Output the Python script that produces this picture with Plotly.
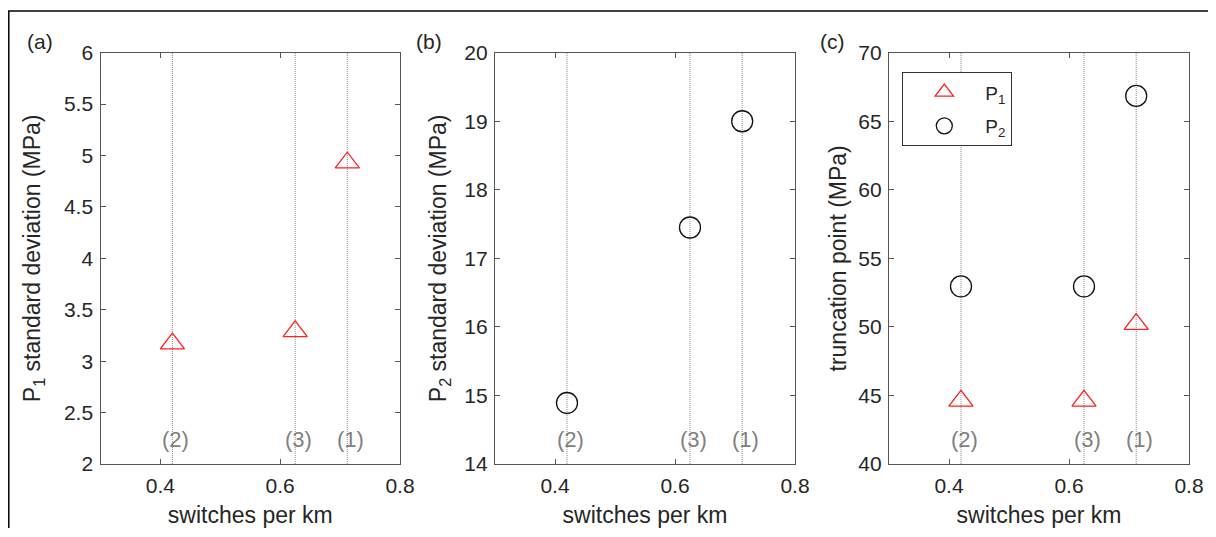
import plotly.graph_objects as go

# ---- data ----
switches = [0.42, 0.625, 0.712]          # switches per km
line_labels = ["(2)", "(3)", "(1)"]
p1_std = [3.17, 3.29, 4.93]              # MPa
p2_std = [14.89, 17.45, 19.0]            # MPa
p1_trunc = [44.6, 44.6, 50.2]            # MPa
p2_trunc = [52.95, 52.95, 66.85]         # MPa
panel_tags = ["(a)", "(b)", "(c)"]
y_titles = ["P<sub>1</sub> standard deviation (MPa)",
            "P<sub>2</sub> standard deviation (MPa)",
            "truncation point (MPa)"]
y_ranges = [[2, 6], [14, 20], [40, 70]]
y_dticks = [0.5, 1, 5]
x_range = [0.3, 0.8]
x_ticks = [0.4, 0.6, 0.8]

# figure sits in the page with the default 8px body margin
W, H = 1200, 520
OX, OY = 8, 8
def px_x(p): return (p - OX) / W
def px_y(p): return 1 - (p - OY) / H

x_domains = [[px_x(100.5), px_x(400)], [px_x(495), px_x(795)], [px_x(889), px_x(1189)]]
y_domain = [px_y(464), px_y(52.7)]
y_standoffs = [16, 11, 5]
tag_xs = [25, 414, 818]

FONT = "Liberation Sans, Arial, sans-serif"
TXT = "#262626"
AX = "#555555"
RED = "#ff2020"

fig = go.Figure()

fig.add_trace(go.Scatter(x=switches, y=p1_std, mode="markers", xaxis="x", yaxis="y",
                         marker=dict(symbol="triangle-up-open", size=21, color=RED, line=dict(width=1.3)),
                         showlegend=False))
fig.add_trace(go.Scatter(x=switches, y=p2_std, mode="markers", xaxis="x2", yaxis="y2",
                         marker=dict(symbol="circle-open", size=21, color="#111111", line=dict(width=1.3)),
                         showlegend=False))
fig.add_trace(go.Scatter(x=switches, y=p1_trunc, mode="markers", xaxis="x3", yaxis="y3",
                         name="P<sub>1</sub>", legendgroup="p1",
                         marker=dict(symbol="triangle-up-open", size=21, color=RED, line=dict(width=1.3))))
fig.add_trace(go.Scatter(x=switches, y=p2_trunc, mode="markers", xaxis="x3", yaxis="y3",
                         name="P<sub>2</sub>", legendgroup="p2",
                         marker=dict(symbol="circle-open", size=21, color="#111111", line=dict(width=1.3))))

axis_common = dict(showline=True, linecolor=AX, linewidth=1.3, mirror="ticks",
                   ticks="inside", ticklen=5, tickwidth=1.2, tickcolor=AX,
                   showgrid=False, zeroline=False, automargin=False,
                   tickfont=dict(family=FONT, size=21, color=TXT))

layout = dict(width=W, height=H,
              margin=dict(l=0, r=0, t=0, b=0, autoexpand=False),
              paper_bgcolor="white", plot_bgcolor="white",
              font=dict(family=FONT, color=TXT),
              shapes=[], annotations=[])

for i in range(3):
    sx = "" if i == 0 else str(i + 1)
    layout["xaxis" + sx] = dict(axis_common, domain=x_domains[i], range=x_range,
                                tickvals=x_ticks, ticktext=[f"{v:.1f}" for v in x_ticks],
                                anchor="y" + sx, ticklabelstandoff=3,
                                title=dict(text="switches per km", standoff=11,
                                           font=dict(family=FONT, size=23, color=TXT)))
    layout["yaxis" + sx] = dict(axis_common, domain=y_domain, range=y_ranges[i],
                                dtick=y_dticks[i], tick0=y_ranges[i][0],
                                anchor="x" + sx, ticklabelstandoff=2,
                                title=dict(text=y_titles[i], standoff=y_standoffs[i],
                                           font=dict(family=FONT, size=23, color=TXT)))
    for xv, lab in zip(switches, line_labels):
        layout["shapes"].append(dict(type="line", xref="x" + sx, yref=f"y{sx} domain",
                                     x0=xv, x1=xv, y0=0, y1=1, layer="below",
                                     line=dict(color="#8a8a8a", width=1, dash="1px,1px")))
        layout["annotations"].append(dict(x=xv, y=0.06, xref="x" + sx, yref=f"y{sx} domain",
                                          xanchor="center", yanchor="middle",
                                          text=lab, showarrow=False, xshift=3,
                                          font=dict(family=FONT, size=22, color="#808080")))
    layout["annotations"].append(dict(x=px_x(tag_xs[i]), y=px_y(41), xref="paper", yref="paper",
                                      xanchor="left", yanchor="middle", text=panel_tags[i],
                                      showarrow=False,
                                      font=dict(family=FONT, size=21, color=TXT)))

# outer frame: top and left edges
layout["shapes"].append(dict(type="line", xref="paper", yref="paper",
                             x0=0, x1=1, y0=px_y(11), y1=px_y(11),
                             line=dict(color="#000000", width=1.5)))
layout["shapes"].append(dict(type="line", xref="paper", yref="paper",
                             x0=0.8 / W, x1=0.8 / W, y0=0, y1=px_y(11),
                             line=dict(color="#000000", width=1.5)))

layout["legend"] = dict(x=px_x(902), y=px_y(72), xanchor="left", yanchor="top",
                        bordercolor="#333333", borderwidth=1.3, bgcolor="white",
                        font=dict(family=FONT, size=19, color=TXT),
                        itemwidth=72, tracegroupgap=6)

fig.update_layout(**layout)
fig.write_html("out.html")
